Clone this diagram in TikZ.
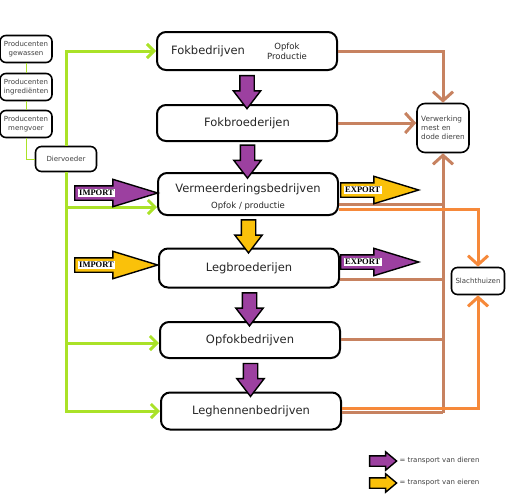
\documentclass[tikz,border=0pt]{standalone}
\usepackage{fontspec}
\setmainfont{DejaVu Sans}
\newfontfamily\stempelfont{Liberation Serif}
\usepackage{tikz}
\usetikzlibrary{calc}
\usetikzlibrary{arrows.meta}
\usetikzlibrary{shapes.arrows}
\definecolor{groen}{RGB}{170,226,40}
\definecolor{bruin}{RGB}{199,130,96}
\definecolor{oranje}{RGB}{246,137,58}
\definecolor{paars}{RGB}{156,64,160}
\definecolor{geel}{RGB}{250,193,10}
\tikzset{hoofd/.style={rectangle,rounded corners=9pt,draw=black,line width=2pt,minimum width=180pt,minimum height=38pt,inner sep=0pt,text=black!85,font=\fontsize{11.5}{13}\selectfont}}

\begin{document}
\begin{tikzpicture}[x=1pt,y=-1pt]
  % some styles
  \tikzset{
    klein/.style={
      rectangle,
      rounded corners=6pt,
      draw=black,
      line width=1.6pt,
      minimum width=52pt,
      minimum height=27pt,
      inner sep=1pt,
      align=center,
      text=black!75,
    font=\fontsize{7}{8.5}\selectfont
    }
  }
  \tikzset{blok/.style={single arrow,draw=black,line width=1.4pt,inner sep=0pt,text height=13pt,single arrow head extend=6.5pt,single arrow tip angle=75,minimum height=33pt}}
  \tikzset{handel/.style={blok,anchor=tail,single arrow head extend=6.5pt,single arrow tip angle=34}}
  \tikzset{stempel/.style={fill=white,inner xsep=1.5pt,inner ysep=1.5pt,font=\stempelfont\bfseries\fontsize{8.5}{8.5}\selectfont}}
  \tikzset{groenlijn/.style={draw=groen,line width=3pt,-{Straight Barb[length=7pt,width=14pt]}}}
  \tikzset{bruinlijn/.style={draw=bruin,line width=3pt}}
  \tikzset{oranjelijn/.style={draw=oranje,line width=3pt,-{Straight Barb[length=9pt,width=20pt]}}}

\useasboundingbox (0,0) rectangle (513,493);

% producenten en diervoeder
\foreach \n/\y/\t in {gew/49/{Producenten\\gewassen},ingr/87/{Producenten\\ingrediënten},meng/124/{Producenten\\mengvoer}}
    \node[klein] (\n) at (26,\y) {\t};
\node[klein,minimum width=61pt,minimum height=25pt] (dier) at (66,159) {Diervoeder};
\draw[groen,line width=0.8pt] (gew) -- (ingr);
\draw[groen,line width=0.8pt] (ingr) -- (meng);
\draw[groen,line width=0.8pt] (meng.south) |- (dier.west);

% bedrijven
\node[hoofd] (fok) at (247,51) {};
\node[font=\fontsize{11.5}{13}\selectfont,text=black!85] (fokt) at (208,51) {Fokbedrijven};
\node[align=center,font=\fontsize{8.5}{10}\selectfont,text=black!85] (fokk) at (287,51) {Opfok\\Productie};
\node[hoofd,minimum height=36pt] (fokbr) at (247,123) {Fokbroederijen};
\node[hoofd,minimum height=42pt] (verm) at (248,194) {};
\node[font=\fontsize{11.5}{13}\selectfont,text=black!85] (vermt) at (248,189) {Vermeerderingsbedrijven};
\node[font=\fontsize{8.5}{10}\selectfont,text=black!85] (vermk) at (248,206) {Opfok / productie};
\node[hoofd,minimum height=39pt] (legbr) at (249,268) {Legbroederijen};
\node[hoofd,minimum height=36pt] (opfok) at (250,340) {Opfokbedrijven};
\node[hoofd,minimum height=37pt] (legh) at (251,411) {Leghennenbedrijven};

\node[klein,align=left,minimum width=52pt,minimum height=49pt,rounded corners=8pt,font=\fontsize{7.3}{9}\selectfont] (verw) at (443,128) {Verwerking\\mest en\\dode dieren};
\node[klein,minimum width=53pt,minimum height=27pt] (slacht) at (478,281) {Slachthuizen};

% voer
\draw[groenlijn] (dier.north) |- (fok.west);
\draw[groenlijn] (dier.south) |- (legh.west);
\foreach \n/\y in {verm/207,opfok/343}
    \draw[groenlijn] (dier.south |- 0,\y) -- (\n.west |- 0,\y);

% mest en dode dieren
\draw[bruinlijn,-{Straight Barb[length=9pt,width=20pt]}] (fok.east) -| (verw.north);
\draw[bruinlijn,-{Straight Barb[length=9pt,width=20pt]}] (fokbr.east) -- (fokbr.east -| verw.west);
\draw[bruinlijn,-{Straight Barb[length=9pt,width=20pt]}] (verw.south |- 0,413) -- (verw.south);
\foreach \n/\y in {verm/204,legbr/279,opfok/339,legh/412}
    \draw[bruinlijn] (\n.east |- 0,\y) -- (verw.south |- 0,\y);

% slachthuizen
\draw[oranjelijn] (verm.east |- 0,209) -| (slacht.north);
\draw[oranjelijn] (legh.east |- 0,408) -| (slacht.south);

% transport tussen de bedrijven
\foreach \a/\b/\c in {fok/fokbr/paars,fokbr/verm/paars,verm/legbr/geel,legbr/opfok/paars,opfok/legh/paars}
    \node[blok,fill=\c,rotate=-90] (pijl-\a) at ($(\a.south)!0.5!(\b.north)$) {};

% import en export
\node[handel,fill=paars,minimum height=83pt] (imp1) at (74,193) {};
\node[stempel,anchor=west] (imp1t) at (77.5,193) {IMPORT};
\node[handel,fill=geel,minimum height=83pt] (imp2) at (74,265) {};
\node[stempel,anchor=west] (imp2t) at (77.5,265) {IMPORT};
\node[handel,fill=geel,minimum height=78pt] (exp1) at (340,190) {};
\node[stempel,anchor=west] (exp1t) at (343.5,190) {EXPORT};
\node[handel,fill=paars,minimum height=78pt] (exp2) at (340,262) {};
\node[stempel,anchor=west] (exp2t) at (343.5,262) {EXPORT};

% legenda
\node[blok,fill=paars,minimum height=27pt,text height=9pt,single arrow head extend=4pt,single arrow tip angle=80] (leg1) at (380,461) {};
\node[anchor=west,font=\fontsize{7}{8}\selectfont,text=black!75] (leg1t) at (396,461) {= transport van dieren};
\node[blok,fill=geel,minimum height=27pt,text height=9pt,single arrow head extend=4pt,single arrow tip angle=80] (leg2) at (380,483) {};
\node[anchor=west,font=\fontsize{7}{8}\selectfont,text=black!75] (leg2t) at (396,483) {= transport van eieren};

\end{tikzpicture}
\end{document}
